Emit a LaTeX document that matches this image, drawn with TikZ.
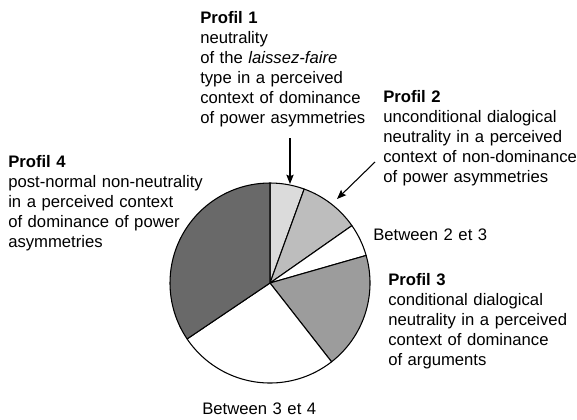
\documentclass[tikz,border=0pt]{standalone}
\usepackage{fontspec}
\setmainfont{Liberation Sans}
\usetikzlibrary{arrows.meta}
\definecolor{pone}{gray}{0.86}
\definecolor{ptwo}{gray}{0.74}
\definecolor{pthree}{gray}{0.61}
\definecolor{pfour}{gray}{0.41}
\begin{document}
\begin{tikzpicture}[x=0.75pt,y=0.75pt,
  wedge/.style={draw=black,line width=0.8pt,line join=round},
  label/.style={anchor=base west,inner sep=0pt,text width=200pt,align=left,
    font=\fontsize{12.5}{15}\selectfont},
  pointer/.style={line width=0.8pt,-{Stealth[length=7pt,width=5.5pt,inset=1.2pt]}}]
\useasboundingbox (0,0) rectangle (577,419);
\def\R{100}
\coordinate (c) at (270,136);
% pie slices, angles counter-clockwise from the east
\draw[wedge,fill=pone]   (c) -- ++(70:\R)   arc[start angle=70,  end angle=90,  radius=\R] -- cycle;
\draw[wedge,fill=ptwo]   (c) -- ++(35:\R)   arc[start angle=35,  end angle=70,  radius=\R] -- cycle;
\draw[wedge,fill=white]  (c) -- ++(16:\R)   arc[start angle=16,  end angle=35,  radius=\R] -- cycle;
\draw[wedge,fill=pthree] (c) -- ++(-52:\R)  arc[start angle=-52, end angle=16,  radius=\R] -- cycle;
\draw[wedge,fill=white]  (c) -- ++(-146:\R) arc[start angle=-146,end angle=-52, radius=\R] -- cycle;
\draw[wedge,fill=pfour]  (c) -- ++(90:\R)   arc[start angle=90,  end angle=214, radius=\R] -- cycle;
% labels
\node[label] (p1) at (200,395.5) {\textbf{Profil 1}\\neutrality\\of the \textit{laissez-faire}\\type in a perceived\\context of dominance\\of power asymmetries};
\node[label] (p2) at (383,316.5) {\textbf{Profil 2}\\unconditional dialogical\\neutrality in a perceived\\context of non-dominance\\of power asymmetries};
\node[label] (b23) at (373,179) {Between 2 et 3};
\node[label] (p3) at (388,134) {\textbf{Profil 3}\\conditional dialogical\\neutrality in a perceived\\context of dominance\\of arguments};
\node[label] (b34) at (202,5) {Between 3 et 4};
\node[label] (p4) at (8,252) {\textbf{Profil 4}\\post-normal non-neutrality\\in a perceived context\\of dominance of power\\asymmetries};
% pointers from the labels to their slices
\coordinate (p1tail) at (290,281);
\coordinate (p1tip)  at (290,235);
\coordinate (p2tail) at (375,257);
\coordinate (p2tip)  at (337,220);
\draw[pointer] (p1tail) -- (p1tip);
\draw[pointer] (p2tail) -- (p2tip);
\end{tikzpicture}
\end{document}
